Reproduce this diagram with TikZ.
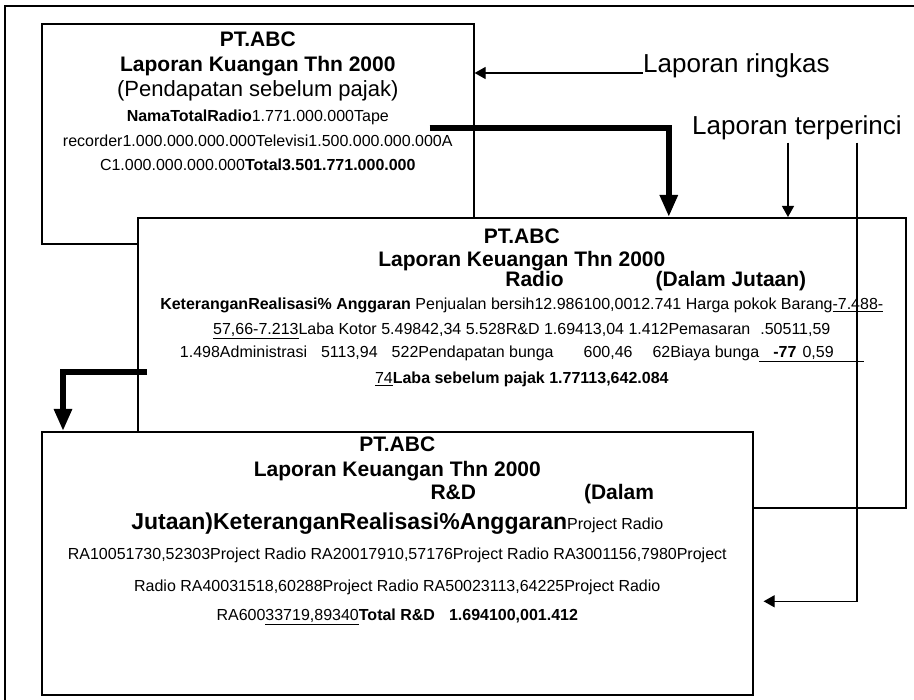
\documentclass[tikz,border=0pt]{standalone}
\usepackage{fontspec}
\setmainfont{Liberation Sans}
\usepackage{tikz}
\usetikzlibrary{positioning,arrows.meta}
\tikzset{
  kotak/.style={rectangle, draw=black, line width=1.6pt, fill=white,
    inner sep=0pt, anchor=north west},
  isi/.style={align=center, inner sep=0pt, font=\fontsize{21}{23}\selectfont},
  keterangan/.style={inner sep=0pt, anchor=base west, font=\fontsize{26}{30}\selectfont},
  panah/.style={-{Triangle[length=11pt,width=12pt]}, line width=1.2pt},
  panahtebal/.style={-{Triangle[length=22pt,width=17pt]}, line width=6pt},
}
\newcommand{\badan}{\fontsize{16}{23}\selectfont}
\newcommand{\besar}{\fontsize{23}{23}\selectfont\bfseries}

\begin{document}
\begin{tikzpicture}[x=1pt, y=1pt]
  \useasboundingbox (0,0) rectangle (914,-700);
  % bingkai luar
  \draw[line width=1.6pt] (5,-700) -- (5,-6) -- (914,-6);

  % laporan ringkas
  \node[kotak, minimum width=432pt, minimum height=220pt] (ringkas) at (41,-23) {};
  \node[isi, below=9pt of ringkas.north] (isiringkas) {{\bfseries PT.ABC}\\[2pt]
    {\bfseries Laporan Kuangan Thn 2000}\\[2pt]
    {\fontsize{22}{23}\selectfont (Pendapatan sebelum pajak)}\\[2pt]
    {\badan\textbf{NamaTotalRadio}1.771.000.000Tape}\\[2pt]
    {\badan recorder1.000.000.000.000Televisi1.500.000.000.000A}\\[1pt]
    {\badan C1.000.000.000.000\textbf{Total3.501.771.000.000}}};

  % laporan radio
  \node[kotak, minimum width=768pt, minimum height=290pt] (radio) at (137,-217) {};
  \node[isi, below=12pt of radio.north] (isiradio) {{\bfseries PT.ABC}\\
    {\bfseries Laporan Keuangan Thn 2000}\\[-3pt]
    {\bfseries\hspace*{268pt}Radio\hspace{92pt}(Dalam Jutaan)}\\[0pt]
    {\badan\textbf{KeteranganRealisasi\% Anggaran} Penjualan bersih12.986100,0012.741 Harga pokok Barang\underline{-7.488-}}\\[2pt]
    {\badan\underline{57,66-7.213}Laba Kotor 5.49842,34 5.528R\&D 1.69413,04 1.412Pemasaran\hspace{10pt}.50511,59}\\
    {\badan 1.498Administrasi\hspace{14pt}5113,94\hspace{14pt}522Pendapatan bunga\hspace{30pt}600,46\hspace{20pt}62Biaya bunga\underline{\hspace{14pt}\textbf{-77}\hspace{6pt}0,59\hspace{30pt}}}\\[3pt]
    {\badan\underline{74}\textbf{Laba sebelum pajak 1.77113,642.084}}};

  % laporan R&D
  \node[kotak, minimum width=711pt, minimum height=263pt] (riset) at (41,-431) {};
  \node[isi, below=6pt of riset.north] (isiriset) {{\bfseries PT.ABC}\\[2pt]
    {\bfseries Laporan Keuangan Thn 2000}\\
    {\bfseries\hspace*{290pt}R\&D\hspace{108pt}(Dalam}\\[7pt]
    {\besar Jutaan)KeteranganRealisasi\%Anggaran}{\badan Project Radio}\\[7pt]
    {\badan RA10051730,52303Project Radio RA20017910,57176Project Radio RA3001156,7980Project}\\[9pt]
    {\badan Radio RA40031518,60288Project Radio RA50023113,64225Project Radio}\\[6pt]
    {\badan RA600\underline{33719,89340}\textbf{Total R\&D\hspace{14pt}1.694100,001.412}}};

  % keterangan
  \node[keterangan] (lblringkas) at (643,-73) {Laporan ringkas};
  \node[keterangan] (lblrinci) at (692,-135) {Laporan terperinci};

  % panah tebal antar laporan
  \coordinate (pangkal1) at ([xshift=-45pt,yshift=-105pt]ringkas.north east);
  \coordinate (pangkal2) at ([xshift=10pt,yshift=-155pt]radio.north west);
  \draw[panahtebal] (pangkal1) -| ([xshift=147pt]radio.north);
  \draw[panahtebal] (pangkal2) -| ([xshift=22pt]riset.north west);

  % panah keterangan
  \draw[panah] (lblringkas.base west) -- (lblringkas.base west -| ringkas.east);
  \draw[panah] ([xshift=-9pt,yshift=-2pt]lblrinci.south) -- ([xshift=-9pt]lblrinci.south |- radio.north);
  \draw[panah] ([xshift=60pt,yshift=-2pt]lblrinci.south) |- ([xshift=10pt,yshift=-38pt]riset.east);
\end{tikzpicture}
\end{document}
